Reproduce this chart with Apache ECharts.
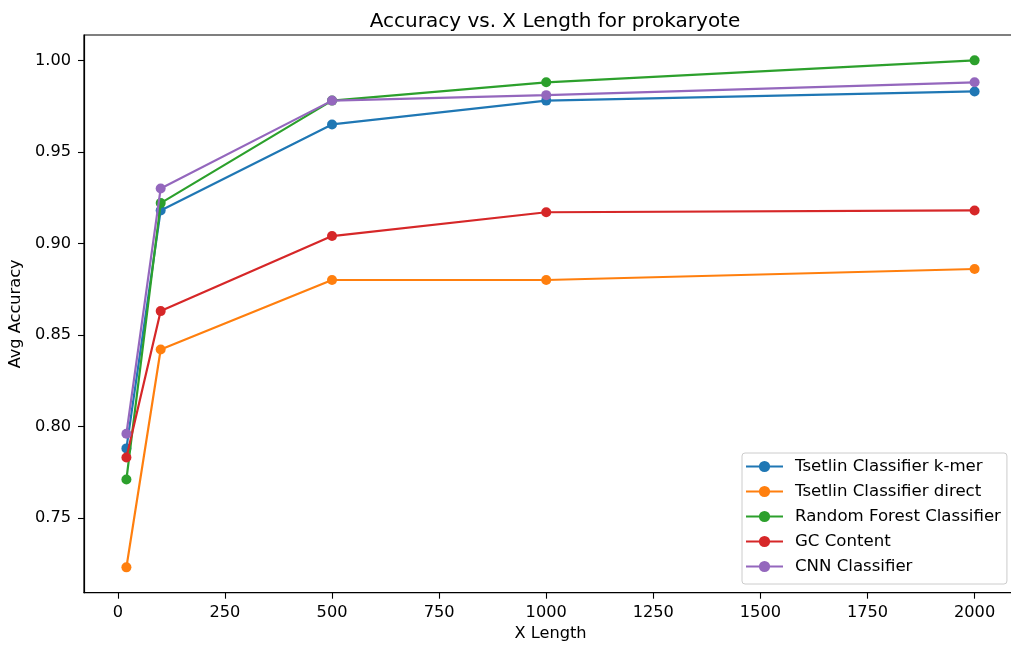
<!DOCTYPE html>
<html>
<head>
<meta charset="utf-8">
<script src="https://cdn.jsdelivr.net/npm/echarts@6/dist/echarts.min.js"></script>
<style>
  html, body { margin: 0; padding: 0; background: #fff; overflow: hidden; width: 1011px; height: 647px; }
  /* the canvas runs a few pixels past the right edge so the plot frame's right side falls outside the view */
  #chart { width: 1017px; height: 647px; }
</style>
</head>
<body>
<div id="chart"></div>
<script>
// X lengths sampled for each classifier
const xLengths = [20, 100, 500, 1000, 2000];

// Average accuracy per method
const tsetlinKmer   = [0.788, 0.918, 0.965, 0.978, 0.983];
const tsetlinDirect = [0.723, 0.842, 0.880, 0.880, 0.886];
const randomForest  = [0.771, 0.922, 0.978, 0.988, 1.000];
const gcContent     = [0.783, 0.863, 0.904, 0.917, 0.918];
const cnnClassifier = [0.796, 0.930, 0.978, 0.981, 0.988];

const seriesNames = [
  'Tsetlin Classifier k-mer',
  'Tsetlin Classifier direct',
  'Random Forest Classifier',
  'GC Content',
  'CNN Classifier'
];

// Tick labels
const xTicks = [0, 250, 500, 750, 1000, 1250, 1500, 1750, 2000];
const yTicks = [0.75, 0.80, 0.85, 0.90, 0.95, 1.00];

const palette = ['#1f77b4', '#ff7f0e', '#2ca02c', '#d62728', '#9467bd'];
const seriesValues = [tsetlinKmer, tsetlinDirect, randomForest, gcContent, cnnClassifier];

const FONT = 'DejaVu Sans';
const BASE = 16.2;

const chart = echarts.init(document.getElementById('chart'), null, { renderer: 'canvas' });

chart.setOption({
  animation: false,
  backgroundColor: '#ffffff',
  textStyle: { fontFamily: FONT },
  color: palette,
  title: {
    text: 'Accuracy vs. X Length for prokaryote',
    left: 550,
    textAlign: 'center',
    top: 7,
    textStyle: { fontFamily: FONT, fontSize: 20, fontWeight: 'normal', color: '#000' }
  },
  grid: {
    left: 84, top: 35, right: 0, bottom: 54.3,
    show: true, borderColor: '#000', borderWidth: 1.2, backgroundColor: 'transparent',
    containLabel: false
  },
  legend: {
    orient: 'vertical',
    left: 742,
    top: 453,
    padding: [5, 6, 9, 3],
    itemWidth: 37,
    itemHeight: 14,
    itemGap: 8,
    backgroundColor: 'rgba(255,255,255,0.85)',
    borderColor: '#cccccc',
    borderWidth: 1,
    borderRadius: 3,
    textStyle: { fontFamily: FONT, fontSize: 16.6, lineHeight: 17, color: '#000', padding: [0, 0, 0, 7] },
    data: seriesNames
  },
  xAxis: {
    type: 'value',
    min: -79,
    max: 2099,
    name: 'X Length',
    nameLocation: 'middle',
    nameGap: 33,
    nameTextStyle: { fontFamily: FONT, fontSize: BASE, color: '#000' },
    splitLine: { show: false },
    axisLine: { show: true, onZero: false, lineStyle: { color: '#000', width: 1.2 } },
    axisTick: { show: true, length: 6, lineStyle: { color: '#000', width: 1.1 }, customValues: xTicks },
    axisLabel: {
      fontFamily: FONT, fontSize: BASE, color: '#000', margin: 12,
      customValues: xTicks,
      formatter: v => String(Math.round(v))
    }
  },
  yAxis: {
    type: 'value',
    min: 0.70915,
    max: 1.01385,
    name: 'Avg Accuracy',
    nameLocation: 'middle',
    nameGap: 58,
    nameRotate: 90,
    nameTextStyle: { fontFamily: FONT, fontSize: BASE, color: '#000' },
    splitLine: { show: false },
    axisLine: { show: true, onZero: false, lineStyle: { color: '#000', width: 1.2 } },
    axisTick: { show: true, length: 6, lineStyle: { color: '#000', width: 1.1 }, customValues: yTicks },
    axisLabel: {
      fontFamily: FONT, fontSize: BASE, color: '#000', margin: 13,
      customValues: yTicks,
      formatter: v => v.toFixed(2)
    }
  },
  series: seriesNames.map((name, i) => ({
    name: name,
    type: 'line',
    data: xLengths.map((x, j) => [x, seriesValues[i][j]]),
    symbol: 'circle',
    symbolSize: 10,
    showSymbol: true,
    lineStyle: { width: 2.2, color: palette[i] },
    itemStyle: { color: palette[i] },
    z: 2 + i
  }))
});
</script>
</body>
</html>
